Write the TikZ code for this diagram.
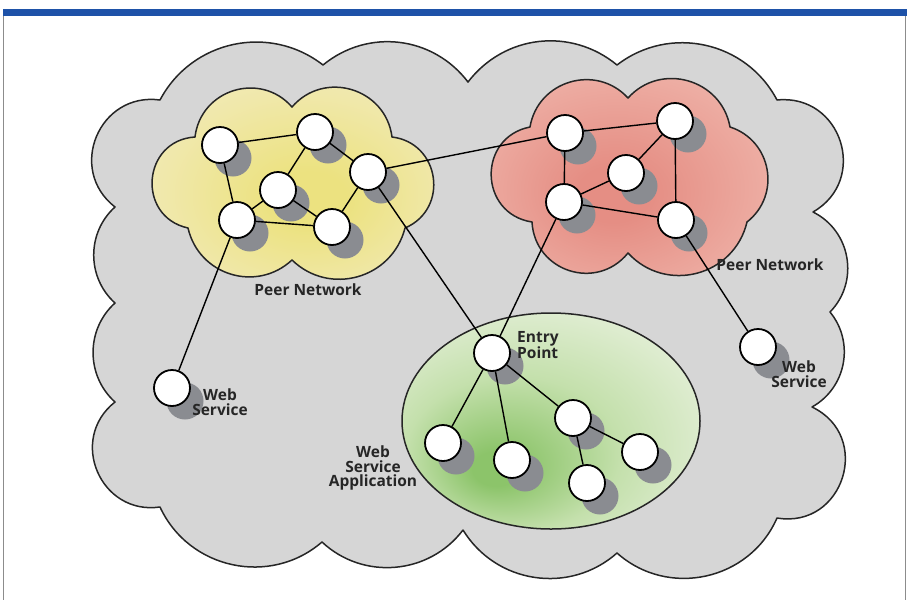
\documentclass[tikz,border=0pt]{standalone}
\usepackage{fontspec}
\setmainfont{Open Sans}
\usetikzlibrary{topaths}

\definecolor{azulbarra}{RGB}{30,82,168}
\definecolor{cinzanuvem}{RGB}{214,214,214}
\definecolor{sombra}{RGB}{138,140,145}
\definecolor{amareloc}{RGB}{236,226,128}
\definecolor{amarelom}{RGB}{240,232,170}
\definecolor{amarelob}{RGB}{245,238,206}
\definecolor{vermelhoc}{RGB}{229,142,132}
\definecolor{vermelhom}{RGB}{237,172,162}
\definecolor{vermelhob}{RGB}{245,204,194}
\definecolor{verdec}{RGB}{140,196,106}
\definecolor{verdem}{RGB}{196,224,172}
\definecolor{verdeb}{RGB}{234,242,224}

\pgfdeclareradialshading{brilhoamarelo}{\pgfpoint{3bp}{-4bp}}{color(0bp)=(amareloc); color(6bp)=(amareloc); color(22bp)=(amarelom); color(40bp)=(amarelob); color(50bp)=(amarelob)}
\pgfdeclareradialshading{brilhovermelho}{\pgfpoint{-3bp}{-4bp}}{color(0bp)=(vermelhoc); color(6bp)=(vermelhoc); color(24bp)=(vermelhom); color(42bp)=(vermelhob); color(50bp)=(vermelhob)}
\pgfdeclareradialshading{brilhoverde}{\pgfpoint{-10bp}{-12bp}}{color(0bp)=(verdec); color(4bp)=(verdec); color(18bp)=(verdem); color(36bp)=(verdeb); color(50bp)=(verdeb)}

\pgfdeclarelayer{fundo}
\pgfdeclarelayer{meio}
\pgfsetlayers{fundo,meio,main}

\tikzset{
  peer/.style={circle, draw=black, fill=white, line width=1.8pt, minimum size=36pt, inner sep=0pt},
  wire/.style={draw=black, line width=1.4pt},
  cloudline/.style={draw=black!85, line width=1.5pt, line join=round},
  netlabel/.style={font=\bfseries\fontsize{15.5}{14.8}\selectfont, text=black!85, inner sep=0pt, align=center}
}

\begin{document}
\begin{tikzpicture}[x=1pt, y=-1pt]
    \useasboundingbox (0,0) rectangle (907,600);

    % Moldura
    \fill[azulbarra] (3,9) rectangle (907,16);
    \draw[black!45, line width=1pt] (3.5,16) -- (3.5,600);
    \draw[black!45, line width=1pt] (905,16) -- (905,600);

    \begin{pgfonlayer}{fundo}
    % Nuvem grande - cinza
    \path[cloudline, fill=cinzanuvem] (160,100)
        to[bend left=50, looseness=1.04] (323,65)
        to[bend left=46, looseness=1.02] (468,82)
        to[bend left=46, looseness=1.02] (617,65)
        to[bend left=50, looseness=1.04] (777,100)
        to[bend left=78, looseness=1.41] (813,212)
        to[bend left=54, looseness=1.07] (830,312)
        to[bend left=50, looseness=1.04] (812,407)
        to[bend left=82, looseness=1.49] (777,518)
        to[bend left=54, looseness=1.07] (617,553)
        to[bend left=50, looseness=1.04] (463,530)
        to[bend left=48, looseness=1.02] (322,542)
        to[bend left=53, looseness=1.06] (160,507)
        to[bend left=75, looseness=1.35] (115,402)
        to[bend left=48, looseness=1.02] (115,303)
        to[bend left=48, looseness=1.02] (115,207)
        to[bend left=75, looseness=1.35] (160,100) -- cycle;

    % Rede peer da esquerda - amarela
    \path[cloudline, shading=brilhoamarelo] (195,137)
        to[bend left=66, looseness=1.21] (292,107)
        to[bend left=66, looseness=1.21] (392,137)
        to[bend left=75, looseness=1.35] (405,228)
        to[bend left=60, looseness=1.14] (292,260)
        to[bend left=60, looseness=1.14] (188,228)
        to[bend left=82, looseness=1.49] (195,137) -- cycle;

    % Rede peer da direita - vermelha
    \path[cloudline, shading=brilhovermelho] (530,127)
        to[bend left=64, looseness=1.18] (628,98)
        to[bend left=64, looseness=1.18] (730,127)
        to[bend left=62, looseness=1.16] (747,222)
        to[bend left=62, looseness=1.16] (628,253)
        to[bend left=69, looseness=1.26] (532,222)
        to[bend left=80, looseness=1.45] (530,127) -- cycle;

    % Aplicacao - verde
    \path[cloudline, shading=brilhoverde] (551,421) ellipse [x radius=149, y radius=108];
    \end{pgfonlayer}

    % Nos da rede amarela
    \node at (220,145) (y1) [peer] {};
    \node at (315,132) (y2) [peer] {};
    \node at (368,172) (y3) [peer] {};
    \node at (278,190) (y4) [peer] {};
    \node at (237,220) (y5) [peer] {};
    \node at (332,227) (y6) [peer] {};

    % Nos da rede vermelha
    \node at (565,133) (r1) [peer] {};
    \node at (675,121) (r2) [peer] {};
    \node at (626,173) (r3) [peer] {};
    \node at (564,202) (r4) [peer] {};
    \node at (676,220) (r5) [peer] {};

    % Web services
    \node at (172,388) (ws1) [peer] {};
    \node at (758,347) (ws2) [peer] {};

    % Aplicacao
    \node at (492,353) (ep) [peer] {};
    \node at (443,443) (g1) [peer] {};
    \node at (512,460) (g2) [peer] {};
    \node at (573,418) (g3) [peer] {};
    \node at (587,483) (g4) [peer] {};
    \node at (640,452) (g5) [peer] {};

    \begin{pgfonlayer}{meio}
    % Sombras
    \foreach \n in {y1,y2,y3,y4,y5,y6,r1,r2,r3,r4,r5,ws1,ws2,ep,g1,g2,g3,g4,g5}
        \fill[sombra] ([shift={(13,13)}]\n.center) circle (18.5);

    % Ligacoes
    \draw[wire] (y1) -- (y2) -- (y3) -- (y6) -- (y5) -- (y1);
    \draw[wire] (y5) -- (y4) -- (y2);
    \draw[wire] (y4) -- (y6);
    \draw[wire] (r1) -- (r2) -- (r5) -- (r4) -- (r1);
    \draw[wire] (r4) -- (r3) -- (r2);
    \draw[wire] (y3) -- (r1);
    \draw[wire] (y3) -- (ep);
    \draw[wire] (r4) -- (ep);
    \draw[wire] (y5) -- (ws1);
    \draw[wire] (r5) -- (ws2);
    \draw[wire] (ep) -- (g1);
    \draw[wire] (ep) -- (g2);
    \draw[wire] (ep) -- (g3) -- (g4);
    \draw[wire] (g3) -- (g5);
    \end{pgfonlayer}

    % Rotulos
    \node at (308,290) (pn1) [netlabel] {Peer Network};
    \node at (770,265) (pn2) [netlabel] {Peer Network};
    \node at (220,402) (wsl1) [netlabel] {Web\\Service};
    \node at (799,374) (wsl2) [netlabel] {Web\\Service};
    \node at (517,345) (epl) [netlabel, anchor=west, align=left] {Entry\\Point};
    \node at (373,468) (wsa) [netlabel] {Web\\Service\\Application};
\end{tikzpicture}
\end{document}
